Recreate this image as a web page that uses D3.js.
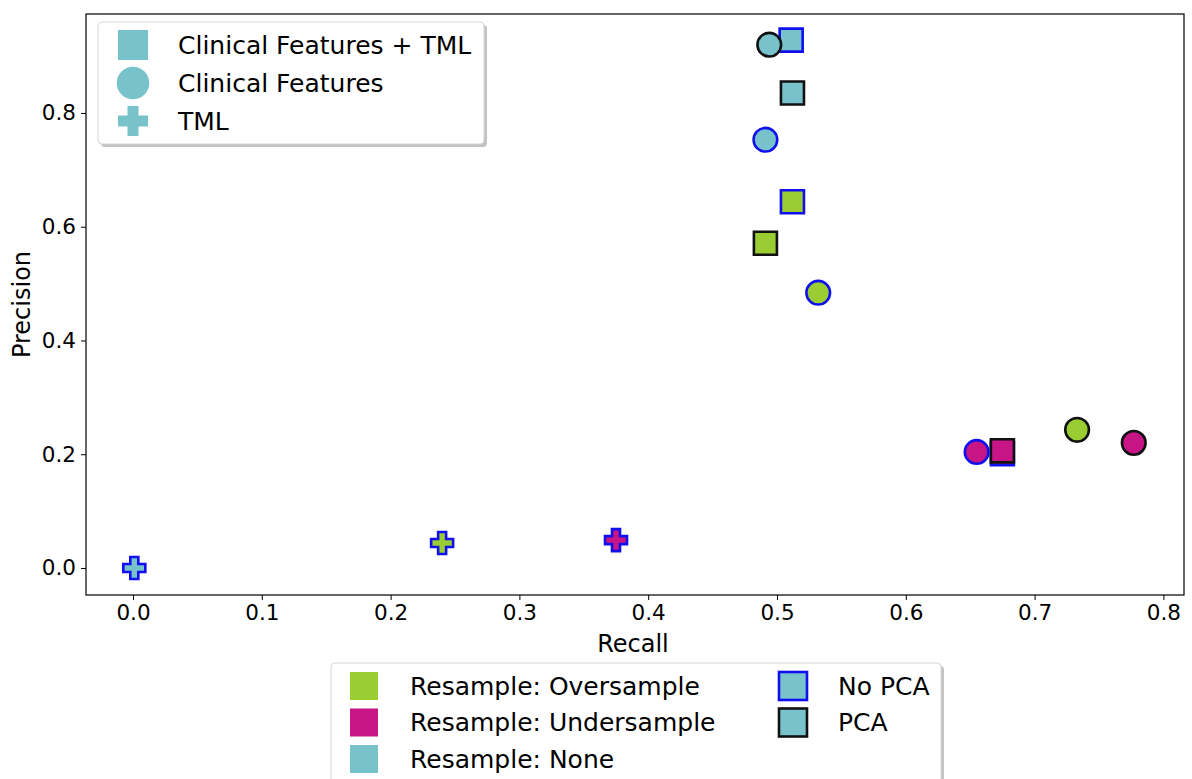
<!DOCTYPE html>
<html>
<head>
<meta charset="utf-8">
<script src="https://cdn.jsdelivr.net/npm/d3@7"></script>
<style>
  body { margin: 0; background: #fff; }
  svg text { font-family: "DejaVu Sans", sans-serif; fill: #000; }
</style>
</head>
<body>
<div id="chart"></div>
<script>
// groups and their values
var featureSets = ["Clinical Features + TML", "Clinical Features", "TML"];
var resamples = ["Oversample", "Undersample", "None"];
var pcaModes = ["No PCA", "PCA"];

// one entry per point: feature set, resample, pca, recall, precision
var pointFeature  = ["Clinical Features + TML","Clinical Features + TML","Clinical Features + TML","Clinical Features + TML","Clinical Features + TML","Clinical Features + TML",
                     "Clinical Features","Clinical Features","Clinical Features","Clinical Features","Clinical Features","Clinical Features",
                     "TML","TML","TML"];
var pointResample = ["None","None","Oversample","Oversample","Undersample","Undersample",
                     "None","None","Oversample","Oversample","Undersample","Undersample",
                     "None","Oversample","Undersample"];
var pointPca      = ["No PCA","PCA","No PCA","PCA","No PCA","PCA",
                     "PCA","No PCA","No PCA","PCA","No PCA","PCA",
                     "No PCA","No PCA","No PCA"];
var recall        = [0.511, 0.512, 0.512, 0.491, 0.675, 0.675,
                     0.494, 0.491, 0.532, 0.733, 0.655, 0.777,
                     0.001, 0.240, 0.375];
var precision     = [0.928, 0.835, 0.644, 0.571, 0.201, 0.206,
                     0.920, 0.753, 0.484, 0.243, 0.204, 0.220,
                     0.000, 0.044, 0.049];

var xTicks = [0, 0.1, 0.2, 0.3, 0.4, 0.5, 0.6, 0.7, 0.8];
var yTicks = [0, 0.2, 0.4, 0.6, 0.8];

var fillColor = {"Oversample": "#9acd32", "Undersample": "#c71585", "None": "#78c2cc"};
var edgeColor = {"No PCA": "#1010ee", "PCA": "#111111"};

var W = 1192, H = 779;
var margin = {top: 14, right: 8, bottom: 184, left: 86},
    width = W - margin.left - margin.right,
    height = H - margin.top - margin.bottom;

var x = d3.scaleLinear().domain([-0.0365, 0.816]).range([0, width]);
var y = d3.scaleLinear().domain([-0.0475, 0.974]).range([height, 0]);

var svg = d3.select("#chart").append("svg")
    .attr("width", W).attr("height", H);

var g = svg.append("g")
    .attr("transform", "translate(" + margin.left + "," + margin.top + ")");

// axes
var xAxis = d3.axisBottom(x).tickValues(xTicks).tickFormat(d3.format(".1f")).tickSize(5).tickPadding(5);
var yAxis = d3.axisLeft(y).tickValues(yTicks).tickFormat(d3.format(".1f")).tickSize(5).tickPadding(5);

g.append("g").attr("class", "x axis")
    .attr("transform", "translate(0," + height + ")")
    .call(xAxis);
g.append("g").attr("class", "y axis")
    .call(yAxis);

g.selectAll(".axis text").style("font-size", "21.5px");
g.selectAll(".axis path").remove();
g.selectAll(".axis line").attr("stroke", "#000").attr("stroke-width", 1);

// frame
g.append("rect")
    .attr("width", width).attr("height", height)
    .attr("fill", "none").attr("stroke", "#000").attr("stroke-width", 1.2);

// labels
g.append("text")
    .attr("x", width / 2 - 2).attr("y", height + 57)
    .style("font-size", "24px").style("text-anchor", "middle")
    .text("Recall");
g.append("text")
    .attr("transform", "translate(" + (-56) + "," + (height / 2) + ") rotate(-90)")
    .style("font-size", "24px").style("text-anchor", "middle")
    .text("Precision");

// marker shapes
var sym = {
  "Clinical Features + TML": d3.symbol().type(d3.symbolSquare).size(530),
  "Clinical Features": d3.symbol().type(d3.symbolCircle).size(440),
  "TML": null
};
function plusPath(s, t) {
  // plus with arm half-length s and half-thickness t
  return "M" + (-t) + "," + (-s) + "H" + t + "V" + (-t) + "H" + s + "V" + t + "H" + t +
         "V" + s + "H" + (-t) + "V" + t + "H" + (-s) + "V" + (-t) + "H" + (-t) + "Z";
}
function markPath(f) {
  return f === "TML" ? plusPath(11, 4) : sym[f]();
}

var points = recall.map(function(r, i) {
  return {f: pointFeature[i], res: pointResample[i], pca: pointPca[i], r: r, p: precision[i]};
});

var dots = g.append("g").attr("class", "dots");
dots.selectAll(".dot")
    .data(points)
    .enter()
    .append("path")
    .attr("class", "dot")
    .attr("d", function(d) { return markPath(d.f); })
    .attr("transform", function(d) { return "translate(" + x(d.r) + "," + y(d.p) + ")"; })
    .attr("fill", function(d) { return fillColor[d.res]; })
    .attr("stroke", function(d) { return edgeColor[d.pca]; })
    .attr("stroke-width", 2.6);

// legend helper
function legendBox(lx, ly, lw, lh) {
  svg.append("rect").attr("x", lx + 3).attr("y", ly + 3).attr("width", lw).attr("height", lh)
      .attr("rx", 4).attr("fill", "#9a9a9a").attr("opacity", 0.6);
  svg.append("rect").attr("x", lx).attr("y", ly).attr("width", lw).attr("height", lh)
      .attr("rx", 4).attr("fill", "#fff").attr("stroke", "#d6d6d6").attr("stroke-width", 1);
}

// top legend: feature sets
legendBox(98, 22, 386, 122);
featureSets.forEach(function(f, i) {
  var cy = 45 + i * 38;
  svg.append("path")
      .attr("d", f === "TML" ? plusPath(15, 5.5) :
           (f === "Clinical Features" ? d3.symbol().type(d3.symbolCircle).size(830)() : d3.symbol().type(d3.symbolSquare).size(900)()))
      .attr("transform", "translate(133," + cy + ")")
      .attr("fill", fillColor["None"]);
  svg.append("text").attr("x", 178).attr("y", cy).attr("dy", "0.35em")
      .style("font-size", "25px").text(f);
});

// bottom legend: resample colours and pca edges
legendBox(331, 663, 610, 130);
resamples.forEach(function(r, i) {
  var cy = 686 + i * 36.5;
  svg.append("rect").attr("x", 350).attr("y", cy - 14).attr("width", 28).attr("height", 28)
      .attr("fill", fillColor[r]);
  svg.append("text").attr("x", 410).attr("y", cy).attr("dy", "0.35em")
      .style("font-size", "25px").text("Resample: " + r);
});
pcaModes.forEach(function(m, i) {
  var cy = 686 + i * 36.5;
  svg.append("rect").attr("x", 779).attr("y", cy - 14).attr("width", 28).attr("height", 28)
      .attr("fill", fillColor["None"]).attr("stroke", edgeColor[m]).attr("stroke-width", 2.6);
  svg.append("text").attr("x", 838).attr("y", cy).attr("dy", "0.35em")
      .style("font-size", "25px").text(m);
});
</script>
</body>
</html>
